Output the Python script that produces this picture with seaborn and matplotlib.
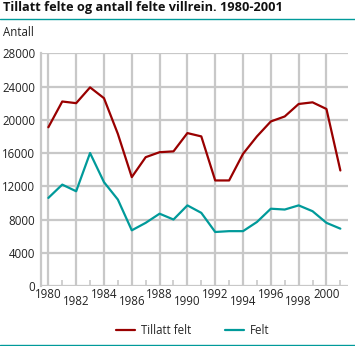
import matplotlib
matplotlib.use("Agg")
import matplotlib.pyplot as plt
import seaborn as sns
import pandas as pd
from matplotlib.lines import Line2D

years = list(range(1980, 2002))
tillatt_felt = [19100, 22200, 22000, 23900, 22600, 18300, 13100, 15500, 16100, 16200,
                18400, 18000, 12700, 12700, 15900, 18000, 19800, 20400, 21900, 22100,
                21300, 13900]
felt = [10600, 12200, 11400, 16000, 12500, 10400, 6700, 7600, 8700, 8000,
        9700, 8800, 6500, 6600, 6600, 7700, 9300, 9200, 9700, 9000,
        7600, 6900]
series_names = ["Tillatt felt", "Felt"]
y_ticks = [0, 4000, 8000, 12000, 16000, 20000, 24000, 28000]
x_ticks = list(range(1980, 2001, 2))
title = "Tillatt felte og antall felte villrein. 1980-2001"
y_label = "Antall"

RED = "#990000"
TEAL = "#009a9a"
GRID = "#c8c8c8"

sns.set_theme(style="white")
plt.rcParams["font.family"] = ["Open Sans", "DejaVu Sans"]

df = pd.DataFrame({
    "year": years * 2,
    "value": tillatt_felt + felt,
    "series": [series_names[0]] * len(years) + [series_names[1]] * len(years),
})

fig = plt.figure(figsize=(3.55, 3.46), dpi=100)
ax = fig.add_axes([40.7 / 355, 1 - 286 / 346, (348 - 40.7) / 355, (286 - 53.3) / 346])

sns.lineplot(data=df, x="year", y="value", hue="series",
             palette={series_names[0]: RED, series_names[1]: TEAL},
             linewidth=1.6, ax=ax, legend=False, zorder=3)

ax.set_xlim(1979.45, 2001.55)
ax.set_ylim(0, 28000)
ax.set_yticks(y_ticks)
ax.set_yticklabels([str(v) for v in y_ticks])
ax.set_xticks(x_ticks)
ax.set_xticklabels([str(v) for v in x_ticks])
ax.set_xticks(list(range(1981, 2002, 2)), minor=True)
ax.set_xlabel("")
ax.set_ylabel("")

ax.grid(True, which="major", axis="both", color=GRID, linewidth=1.6, zorder=0)
ax.set_axisbelow(True)
for side in ["top", "right", "bottom"]:
    ax.spines[side].set_visible(False)
ax.spines["left"].set_color(GRID)
ax.spines["left"].set_linewidth(1.6)

ax.tick_params(axis="y", which="major", length=0, pad=4, labelsize=8.3, labelcolor="#222222")
ax.tick_params(axis="x", which="major", length=0, pad=2, labelsize=8.3, labelcolor="#222222")
ax.tick_params(axis="x", which="minor", direction="in", length=4, width=1.2, color=GRID, bottom=True)

for i, tick in enumerate(ax.xaxis.get_major_ticks()):
    tick.set_pad(1.5 if i % 2 == 0 else 6.5)

fig.text(3 / 355, 1 - 8 / 346, title, fontsize=9.2, fontweight="bold", va="center", ha="left", color="#111111")
fig.add_artist(Line2D([0, 1], [1 - 18.5 / 346, 1 - 18.5 / 346], color=TEAL, linewidth=1.0))
fig.add_artist(Line2D([0, 1], [1 - 344.5 / 346, 1 - 344.5 / 346], color=TEAL, linewidth=1.0))
fig.text(3 / 355, 1 - 33 / 346, y_label, fontsize=8.3, va="center", ha="left", color="#222222")

handles = [Line2D([0], [0], color=RED, linewidth=1.6), Line2D([0], [0], color=TEAL, linewidth=1.6)]
fig.legend(handles, series_names, loc="center", bbox_to_anchor=(192.5 / 355, 1 - 331 / 346),
           ncol=2, frameon=False, fontsize=8.3, handlelength=1.65, handletextpad=0.52,
           columnspacing=2.95, borderaxespad=0, borderpad=0)

fig.savefig("out.png", dpi=100)
